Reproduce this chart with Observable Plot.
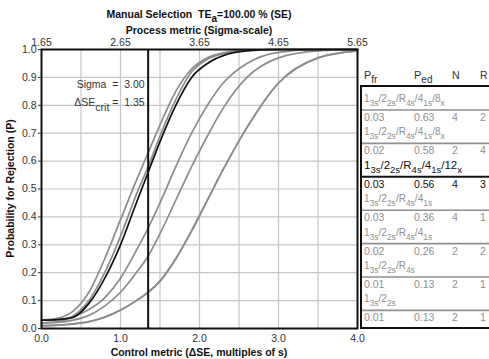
<!DOCTYPE html>
<html><head><meta charset="utf-8">
<script src="https://cdn.jsdelivr.net/npm/d3@7"></script>
<script src="https://cdn.jsdelivr.net/npm/@observablehq/plot@0.6"></script>
<style>body{margin:0;background:#fff;} svg{display:block}</style>
</head><body><div id="chart"></div>
<script>
// ---- data ----
const dseGrid = [0, 0.2, 0.4, 0.6, 0.8, 1.0, 1.2, 1.35, 1.5, 1.7, 1.9, 2.1, 2.3, 2.6, 3.0, 3.5, 4.0];
const pRule1 = [0.03, 0.036, 0.062, 0.13, 0.25, 0.39, 0.53, 0.63, 0.73, 0.85, 0.93, 0.97, 0.988, 0.998, 1.0, 1.0, 1.0];
const pRule2 = [0.02, 0.025, 0.045, 0.10, 0.20, 0.33, 0.48, 0.58, 0.69, 0.82, 0.92, 0.965, 0.985, 0.997, 1.0, 1.0, 1.0];
const pRule3 = [0.03, 0.032, 0.04, 0.09, 0.18, 0.30, 0.45, 0.56, 0.67, 0.80, 0.90, 0.95, 0.978, 0.995, 1.0, 1.0, 1.0];
const pRule4 = [0.03, 0.032, 0.042, 0.068, 0.11, 0.18, 0.28, 0.36, 0.45, 0.58, 0.70, 0.80, 0.88, 0.95, 0.99, 1.0, 1.0];
const pRule5 = [0.02, 0.022, 0.03, 0.047, 0.08, 0.13, 0.20, 0.26, 0.34, 0.46, 0.58, 0.69, 0.79, 0.90, 0.97, 0.995, 1.0];
const pRule6 = [0.01, 0.012, 0.017, 0.025, 0.04, 0.065, 0.10, 0.13, 0.17, 0.25, 0.35, 0.46, 0.57, 0.72, 0.88, 0.97, 0.995];
const pRule7 = [0.01, 0.012, 0.016, 0.024, 0.041, 0.066, 0.10, 0.13, 0.17, 0.25, 0.35, 0.46, 0.57, 0.72, 0.88, 0.97, 0.995];
const ruleSeries = [pRule1, pRule2, pRule3, pRule4, pRule5, pRule6, pRule7];

const ruleNames = [
  "1_{3s}/2_{2s}/R_{4s}/4_{1s}/8_{x}",
  "1_{3s}/2_{2s}/R_{4s}/4_{1s}/8_{x}",
  "1_{3s}/2_{2s}/R_{4s}/4_{1s}/12_{x}",
  "1_{3s}/2_{2s}/R_{4s}/4_{1s}",
  "1_{3s}/2_{2s}/R_{4s}/4_{1s}",
  "1_{3s}/2_{2s}/R_{4s}",
  "1_{3s}/2_{2s}"
];
const pfrValues = ["0.03", "0.02", "0.03", "0.03", "0.02", "0.01", "0.01"];
const pedValues = ["0.63", "0.58", "0.56", "0.36", "0.26", "0.13", "0.13"];
const nValues = ["4", "2", "4", "4", "2", "2", "2"];
const rValues = ["2", "4", "3", "1", "2", "1", "1"];
const selectedRule = 2;

const sigmaValue = "3.00";
const dseCrit = 1.35;
const titleText = "Manual Selection  TE_{a}=100.00 % (SE)";
const topAxisTitle = "Process metric (Sigma-scale)";
const xAxisTitle = "Control metric (\u0394SE, multiples of s)";
const yAxisTitle = "Probability for Rejection (P)";
const xTicks = [0, 1, 2, 3, 4];
const sigmaTickLabels = ["1.65", "2.65", "3.65", "4.65", "5.65"];
const xGridTicks = [0.5, 1, 1.5, 2, 2.5, 3, 3.5];
const yTicks = [0, 0.1, 0.2, 0.3, 0.4, 0.5, 0.6, 0.7, 0.8, 0.9, 1.0];

// ---- build table ----
const rows = [];
ruleSeries.forEach((s, i) => s.forEach((p, j) => rows.push({dse: dseGrid[j], p, rule: i})));
const grayRows = rows.filter(d => d.rule !== selectedRule);
const blackRows = rows.filter(d => d.rule === selectedRule);

const FONT = "'Liberation Sans', Arial, Helvetica, sans-serif";
const chart = Plot.plot({
  width: 489, height: 359,
  marginLeft: 41, marginRight: 132, marginTop: 49, marginBottom: 31,
  style: {fontFamily: FONT, fontSize: "10.5px", color: "#333", background: "#fff"},
  x: {domain: [0, 4]},
  y: {domain: [0, 1]},
  marks: [
    Plot.gridY(yTicks, {stroke: "#c6c6c6", strokeOpacity: 1, strokeWidth: 1.2}),
    Plot.gridX(xGridTicks, {stroke: "#c6c6c6", strokeOpacity: 1, strokeWidth: 1.2}),
    Plot.line(grayRows, {x: "dse", y: "p", z: "rule", stroke: "#8c8c8c", strokeWidth: 1.7, curve: "monotone-x"}),
    Plot.line(blackRows, {x: "dse", y: "p", z: "rule", stroke: "#111", strokeWidth: 1.7, curve: "monotone-x"}),
    Plot.ruleX([dseCrit], {stroke: "#111", strokeWidth: 2}),
    Plot.frame({stroke: "#111", strokeWidth: 2}),
    Plot.axisY(yTicks, {tickFormat: d => d.toFixed(1), tickSize: 3, tickPadding: 2, label: null}),
    Plot.axisX(xTicks, {anchor: "bottom", tickFormat: d => d.toFixed(1), tickSize: 0, tickPadding: 6, label: null}),
    Plot.axisX(xTicks, {anchor: "top", tickFormat: (d, i) => sigmaTickLabels[i], tickSize: 0, tickPadding: 4, label: null})
  ]
});
document.getElementById("chart").appendChild(chart);

// ---- texts ----
const svg = d3.select(chart);
const xs = chart.scale("x"), ys = chart.scale("y");

function rich(parent, x, y, str, o) {
  const t = parent.append("text").attr("x", x).attr("y", y)
    .attr("font-size", o.size).attr("fill", o.fill || "#333")
    .attr("font-weight", o.weight || "normal")
    .attr("text-anchor", o.anchor || "start")
    .attr("font-family", FONT)
    .style("white-space", "pre");
  const parts = str.split(/(_\{[^}]*\})/);
  let shifted = false;
  for (const p of parts) {
    if (!p) continue;
    if (p.startsWith("_{")) {
      t.append("tspan").attr("dy", o.sub).attr("font-size", o.subSize).text(p.slice(2, -1));
      shifted = true;
    } else {
      const ts = t.append("tspan").text(p);
      if (shifted) { ts.attr("dy", -o.sub); shifted = false; }
    }
  }
  return t;
}

const cx = (xs.apply(0) + xs.apply(4)) / 2;
rich(svg, cx, 18, titleText, {size: "10.5px", subSize: "10px", sub: 4, weight: "bold", anchor: "middle", fill: "#111"});
rich(svg, cx, 34, topAxisTitle, {size: "10.5px", weight: "bold", anchor: "middle", fill: "#111"});
rich(svg, cx, 356, xAxisTitle, {size: "10.5px", weight: "bold", anchor: "middle", fill: "#111"});
svg.append("text").attr("transform", `translate(14,${(ys.apply(0) + ys.apply(1)) / 2}) rotate(-90)`)
  .attr("text-anchor", "middle").attr("font-family", FONT).attr("font-size", "10.5px")
  .attr("font-weight", "bold").attr("fill", "#111").text(yAxisTitle);

// annotations
const annX = xs.apply(dseCrit) - 3;
rich(svg, annX, ys.apply(1) + 39, "Sigma  =  " + sigmaValue, {size: "10.5px", anchor: "end", fill: "#333"});
rich(svg, annX, ys.apply(1) + 57, "\u0394SE_{crit} =  " + dseCrit.toFixed(2), {size: "10.5px", subSize: "10.5px", sub: 5, anchor: "end", fill: "#333"});

// legend table
const lg = svg.append("g");
const colX = [364, 414, 452, 480];
rich(lg, colX[0], 79, "P_{fr}", {size: "11px", subSize: "10px", sub: 4, fill: "#333"});
rich(lg, colX[1], 79, "P_{ed}", {size: "11px", subSize: "10px", sub: 4, fill: "#333"});
rich(lg, colX[2], 79, "N", {size: "10.5px", fill: "#333"});
rich(lg, colX[3], 79, "R", {size: "10.5px", fill: "#333"});
lg.append("rect").attr("x", 361).attr("y", 86).attr("width", 140).attr("height", 242)
  .attr("fill", "none").attr("stroke", "#111").attr("stroke-width", 2);

ruleNames.forEach((name, i) => {
  const vc = 117 + 33.4 * i;
  const sel = i === selectedRule;
  const col = sel ? "#111" : "#909090";
  rich(lg, 364, vc - 15, name, sel
    ? {size: "11.5px", subSize: "9.5px", sub: 4, fill: col}
    : {size: "10px", subSize: "8.5px", sub: 4, fill: col});
  lg.append("line").attr("x1", 362).attr("x2", 489).attr("y1", vc - 7).attr("y2", vc - 7)
    .attr("stroke", col).attr("stroke-width", sel ? 2 : 1.6);
  const vals = [pfrValues[i], pedValues[i], nValues[i], rValues[i]];
  vals.forEach((v, k) => rich(lg, colX[k], vc + 4, v, {size: "10.5px", fill: sel ? "#111" : "#909090"}));
});
</script>
</body></html>
